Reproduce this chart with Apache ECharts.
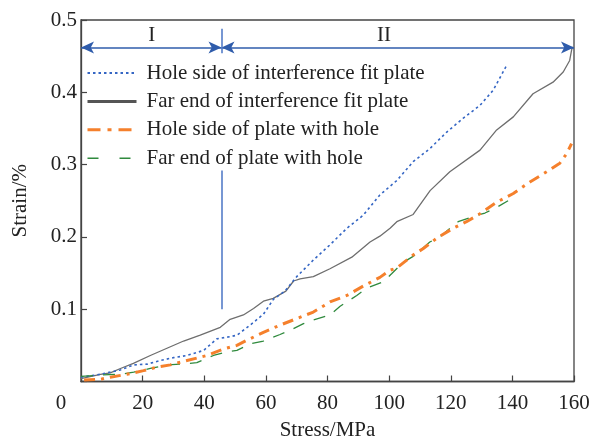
<!DOCTYPE html>
<html>
<head>
<meta charset="utf-8">
<script src="https://cdn.jsdelivr.net/npm/echarts@6/dist/echarts.min.js"></script>
<style>html,body{margin:0;padding:0;background:#fff}#c{width:590px;height:440px}</style>
</head>
<body>
<div id="c"></div>
<script>
// ---- data ----
var seriesNames = ['Hole side of interference fit plate','Far end of interference fit plate','Hole side of plate with hole','Far end of plate with hole'];

var holeInterfStress = [0,6.3,12.8,17.1,21.4,25.7,30,34.4,39.8,44.1,48.4,50.6,54.9,59.2,62.5,66.2,70,75.4,80.8,86.3,91.6,97,102.5,107.8,113.2,118.7,124,129.5,133.8,138.1];
var holeInterfStrain = [0.006,0.010,0.016,0.023,0.024,0.029,0.033,0.036,0.043,0.059,0.062,0.064,0.078,0.093,0.114,0.125,0.145,0.168,0.189,0.212,0.230,0.258,0.278,0.304,0.322,0.345,0.364,0.382,0.403,0.437];

var farInterfStress = [0,6.3,9.5,12.8,17,22.5,27.9,33.3,38.7,45.2,48.4,52.7,56,59.2,62.4,66.5,69,71.1,75.4,80.8,87.9,93.8,97,100.3,102.5,107.8,113.3,119.7,129.5,134.9,140.3,146.7,153.2,156.5,158.6,159.2,159.5];
var farInterfStrain = [0.004,0.010,0.012,0.018,0.025,0.036,0.046,0.056,0.064,0.075,0.086,0.092,0.101,0.111,0.115,0.125,0.139,0.142,0.145,0.156,0.172,0.193,0.201,0.212,0.221,0.231,0.264,0.290,0.320,0.348,0.366,0.398,0.414,0.428,0.444,0.458,0.463];

var holePlateStress = [1,6.3,9.5,14.9,20.3,24.7,29,34.4,40.9,46.3,50.6,53.8,59.2,64.6,70,75.4,80.8,86.3,91.6,97,100.3,102.5,107.8,111.1,115.4,120.8,125.1,129.5,134.9,140.3,145.7,151.1,155.4,157.6,159.2];
var holePlateStrain = [0.002,0.003,0.006,0.010,0.015,0.020,0.023,0.029,0.036,0.045,0.050,0.057,0.068,0.078,0.087,0.096,0.110,0.119,0.132,0.144,0.154,0.157,0.175,0.184,0.198,0.212,0.221,0.232,0.248,0.260,0.276,0.290,0.302,0.315,0.329];

var farPlateStress = [0,6.3,12.8,17.1,22.5,27.9,32.2,37.6,43,47.3,50.6,54.9,59.2,64.6,67.9,72.2,75.4,80.8,84.1,89.5,92.7,98.1,100.8,104.6,107.8,113.2,116.5,119.8,122.4,127.8,131.1,135.4,138.6];
var farPlateStrain = [0.007,0.009,0.010,0.013,0.018,0.023,0.024,0.026,0.036,0.041,0.043,0.052,0.056,0.065,0.071,0.080,0.085,0.092,0.104,0.119,0.129,0.138,0.149,0.165,0.173,0.193,0.200,0.212,0.221,0.229,0.233,0.242,0.250];

var xTicks = {min: 0, max: 160, interval: 20};
var yTicks = {min: 0, max: 0.5, interval: 0.1};

// stage annotation
var stageNames = ['I', 'II'];
var stageBounds = [0, 45.6, 160];
var stageLabelX = [23, 98.3];
var stageArrowY = 0.462;
var stageLabelY = 0.479;
var dividerLow = [0.1, 0.292];
var dividerHigh = [0.454, 0.488];

function zip(xs, ys){ return xs.map(function(x,i){ return [x, ys[i]]; }); }

var FONT = '"Liberation Serif","Times New Roman",serif';
var FS = 21;
var chart = echarts.init(document.getElementById('c'));

var arrowColor = '#2f5cab';
var dividerStyle = {color: '#4a74c4', width: 1.5, type: 'solid'};
var markLineData = [];
for (var i = 0; i < stageNames.length; i++) {
  markLineData.push([
    {coord: [stageBounds[i], stageArrowY], symbol: 'arrow'},
    {coord: [stageBounds[i+1], stageArrowY], symbol: 'arrow'}
  ]);
}
markLineData.push([
  {coord: [stageBounds[1], dividerLow[0]], symbol: 'none', lineStyle: dividerStyle},
  {coord: [stageBounds[1], dividerLow[1]], symbol: 'none', lineStyle: dividerStyle}
]);
markLineData.push([
  {coord: [stageBounds[1], dividerHigh[0]], symbol: 'none', lineStyle: dividerStyle},
  {coord: [stageBounds[1], dividerHigh[1]], symbol: 'none', lineStyle: dividerStyle}
]);

var markPointData = stageNames.map(function(n, i){
  return {name: n, coord: [stageLabelX[i], stageLabelY], value: n};
});

chart.setOption({
  animation: false,
  backgroundColor: '#fff',
  grid: {left: 81, right: 16, top: 20, bottom: 58.5, containLabel: false, outerBoundsMode: 'none',
         show: true, borderColor: '#444', borderWidth: 1.3, backgroundColor: 'transparent'},
  legend: {
    orient: 'vertical', left: 81, top: 57.5,
    itemWidth: 49, itemHeight: 20, itemGap: 7.4,
    itemStyle: {opacity: 0},
    textStyle: {fontFamily: FONT, fontSize: FS, color: '#222', padding: [0,0,0,5], lineHeight: 20},
    data: [
      {name: seriesNames[0]},
      {name: seriesNames[1], lineStyle: {width: 3, color: '#555'}},
      {name: seriesNames[2], lineStyle: {width: 3, type: [13,7,4,7]}},
      {name: seriesNames[3], lineStyle: {width: 1.5, type: [11,21]}}
    ]
  },
  xAxis: {
    type: 'value', min: xTicks.min, max: xTicks.max, interval: xTicks.interval,
    name: 'Stress/MPa', nameLocation: 'middle', nameGap: 38,
    nameTextStyle: {fontFamily: FONT, fontSize: FS, color: '#222'},
    axisLine: {show: true, onZero: false, lineStyle: {color: '#444', width: 1.3}},
    axisTick: {show: true, inside: true, length: 6, lineStyle: {color: '#444', width: 1.2}},
    splitLine: {show: false},
    axisLabel: {
      fontFamily: FONT, fontSize: FS, color: '#222', margin: 11,
      formatter: function(v){ return v === 0 ? '{o|0}' : String(v); },
      rich: {o: {fontFamily: FONT, fontSize: FS, color: '#222', padding: [0, 40, 0, 0]}}
    }
  },
  yAxis: {
    type: 'value', min: yTicks.min, max: yTicks.max, interval: yTicks.interval,
    name: 'Strain/%', nameLocation: 'middle', nameGap: 50,
    nameTextStyle: {fontFamily: FONT, fontSize: FS, color: '#222'},
    axisLine: {show: true, onZero: false, lineStyle: {color: '#444', width: 1.3}},
    axisTick: {show: true, inside: true, length: 6, lineStyle: {color: '#444', width: 1.2}},
    splitLine: {show: false},
    axisLabel: {
      fontFamily: FONT, fontSize: FS, color: '#222', margin: 4,
      formatter: function(v){ return v === 0 ? '' : v.toFixed(1); }
    }
  },
  series: [
    {
      name: seriesNames[0], type: 'line', data: zip(holeInterfStress, holeInterfStrain),
      symbol: 'none', z: 3,
      lineStyle: {color: '#3566c4', width: 1.6, type: [2.5, 3]},
      itemStyle: {color: '#3566c4'}
    },
    {
      name: seriesNames[1], type: 'line', data: zip(farInterfStress, farInterfStrain),
      symbol: 'none', z: 2,
      lineStyle: {color: '#6e6e6e', width: 1.3},
      itemStyle: {color: '#6e6e6e'},
      markLine: {
        silent: true, animation: false,
        symbolSize: [9, 13],
        lineStyle: {color: arrowColor, width: 1.6, type: 'solid'},
        label: {show: false},
        emphasis: {disabled: true},
        data: markLineData
      },
      markPoint: {
        silent: true, animation: false,
        symbol: 'circle', symbolSize: 0,
        label: {show: true, position: 'inside', formatter: '{b}', fontFamily: FONT, fontSize: FS, color: '#222'},
        data: markPointData
      }
    },
    {
      name: seriesNames[2], type: 'line', data: zip(holePlateStress, holePlateStrain),
      symbol: 'none', z: 4,
      lineStyle: {color: '#f5802c', width: 3, type: [11, 6, 3, 6]},
      itemStyle: {color: '#f5802c'}
    },
    {
      name: seriesNames[3], type: 'line', data: zip(farPlateStress, farPlateStrain),
      symbol: 'none', z: 3,
      lineStyle: {color: '#2f8a3d', width: 1.3, type: [12, 10]},
      itemStyle: {color: '#2f8a3d'}
    }
  ]
});
</script>
</body>
</html>
